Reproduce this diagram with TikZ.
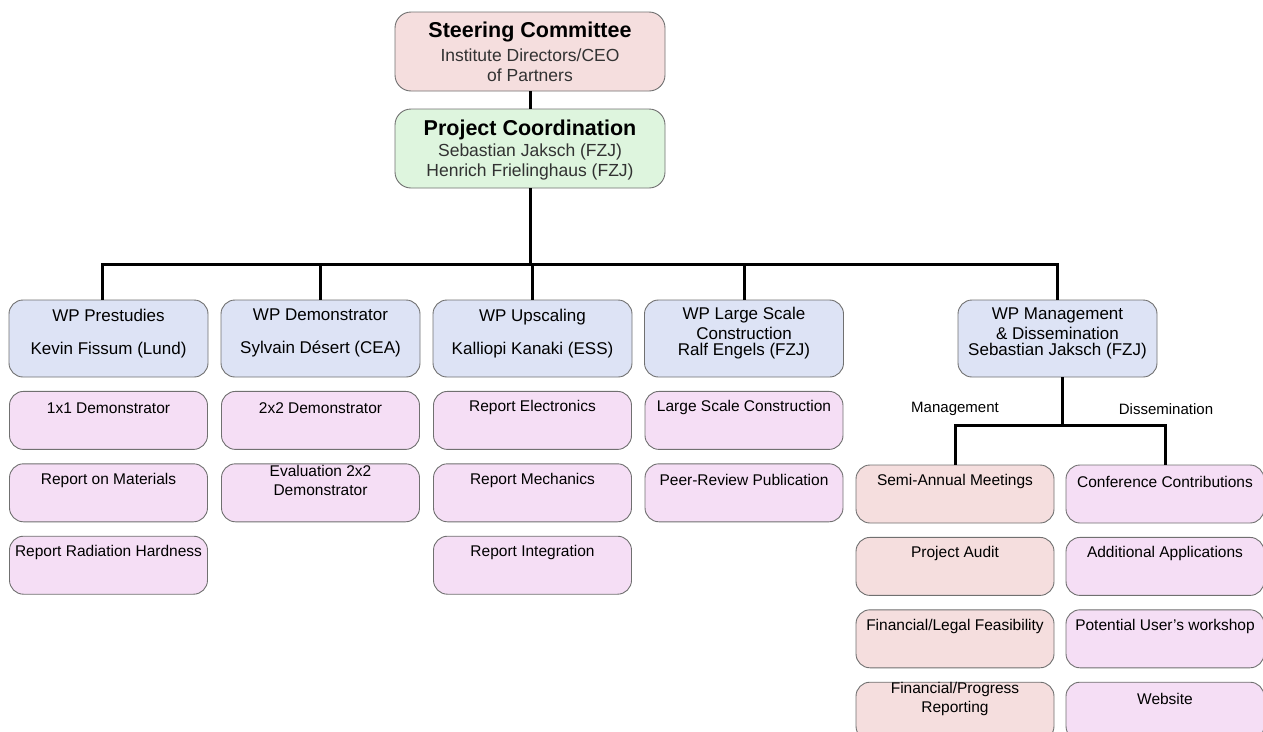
\documentclass[tikz,border=0pt]{standalone}
\usepackage{fontspec}
\setmainfont{Liberation Sans}
\usetikzlibrary{positioning}
\definecolor{SteerClr}{RGB}{245,222,222}
\definecolor{CoordClr}{RGB}{222,245,222}
\definecolor{WpClr}{RGB}{221,227,245}
\definecolor{TaskClr}{RGB}{245,222,245}
\definecolor{MgmtClr}{RGB}{245,222,222}
\definecolor{EdgeClr}{RGB}{112,112,112}
\definecolor{NameClr}{RGB}{50,50,50}

\begin{document}
\begin{tikzpicture}[x=1pt,y=-1pt,node distance=13.5pt,
  box/.style={draw=EdgeClr,line width=0.9pt,rounded corners=14pt,inner sep=0pt,align=center},
  head/.style={box,rounded corners=16pt,minimum width=270pt,minimum height=79pt,text depth=0pt,text=NameClr,font=\fontsize{17.5}{20}\selectfont},
  wp/.style={box,fill=WpClr,minimum width=199pt,minimum height=77pt,text depth=14pt,font=\fontsize{17}{20}\selectfont},
  task/.style={box,fill=TaskClr,minimum width=198pt,minimum height=58pt},
  tasktxt/.style={anchor=center,yshift=-17pt,align=center,font=\fontsize{15.5}{19}\selectfont},
  conn/.style={line width=3pt}]
\useasboundingbox (0,0) rectangle (1263,731);

\node[head,fill=SteerClr] (steer) at (530,51.5) {{\color{black}\fontsize{21.5}{24}\selectfont\bfseries Steering Committee}\\[4pt]Institute Directors/CEO\\of Partners};
\node[head,fill=CoordClr] (coord) at (530,148.5) {{\color{black}\fontsize{21.5}{24}\selectfont\bfseries Project Coordination}\\[1pt]Sebastian Jaksch (FZJ)\\Henrich Frielinghaus (FZJ)};

\node[wp] (wpa) at (108.5,338.5) {WP Prestudies\\[13pt]Kevin Fissum (Lund)};
\node[wp] (wpb) at (320.5,338.5) {WP Demonstrator\\[13pt]Sylvain Désert (CEA)};
\node[wp] (wpc) at (532.5,338.5) {WP Upscaling\\[13pt]Kalliopi Kanaki (ESS)};
\node[wp] (wpd) at (744,338.5) {WP Large Scale\\Construction\\[-4pt]Ralf Engels (FZJ)};
\node[wp] (wpe) at (1057.5,338.5) {WP Management\\\& Dissemination\\[-4pt]Sebastian Jaksch (FZJ)};

\draw[conn] (steer) -- (coord);
\draw[conn] (coord.south) -- ++(0,76) coordinate (bus);
\draw[conn] (bus) -| ([xshift=-6pt]wpa.north);
\draw[conn] (bus) -| (wpb.north);
\draw[conn] (bus) -| (wpc.north);
\draw[conn] (bus) -| (wpd.north);
\draw[conn] (bus) -| (wpe.north);

% work package tasks
\node[task,below=of wpa,label={[tasktxt]north:{1x1 Demonstrator}}] (pa1) {};
\node[task,below=of pa1,label={[tasktxt]north:{Report on Materials}}] (pa2) {};
\node[task,below=of pa2,label={[tasktxt]north:{Report Radiation Hardness}}] (pa3) {};

\node[task,below=of wpb,label={[tasktxt]north:{2x2 Demonstrator}}] (pb1) {};
\node[task,below=of pb1,label={[tasktxt]north:{Evaluation 2x2\\Demonstrator}}] (pb2) {};

\node[task,below=of wpc,label={[tasktxt]north:{Report Electronics}}] (pc1) {};
\node[task,below=of pc1,label={[tasktxt]north:{Report Mechanics}}] (pc2) {};
\node[task,below=of pc2,label={[tasktxt]north:{Report Integration}}] (pc3) {};

\node[task,below=of wpd,label={[tasktxt]north:{Large Scale Construction}}] (pd1) {};
\node[task,below=of pd1,label={[tasktxt]north:{Peer-Review Publication}}] (pd2) {};

% management and dissemination
\node[task,fill=MgmtClr,label={[tasktxt]north:{Semi-Annual Meetings}}] (m1) at (955,494) {};
\node[task,fill=MgmtClr,below=of m1,label={[tasktxt]north:{Project Audit}}] (m2) {};
\node[task,fill=MgmtClr,below=of m2,label={[tasktxt]north:{Financial/Legal Feasibility}}] (m3) {};
\node[task,fill=MgmtClr,below=of m3,label={[tasktxt]north:{Financial/Progress\\Reporting}}] (m4) {};

\node[task,label={[tasktxt]north:{Conference Contributions}}] (d1) at (1165,494) {};
\node[task,below=of d1,label={[tasktxt]north:{Additional Applications}}] (d2) {};
\node[task,below=of d2,label={[tasktxt]north:{Potential User's workshop}}] (d3) {};
\node[task,below=of d3,label={[tasktxt]north:{Website}}] (d4) {};

\draw[conn] ([xshift=5pt]wpe.south) -- ++(0,48) coordinate (split);
\draw[conn] (split) -| (m1.north);
\draw[conn] (split) -| (d1.north);
\node[font=\fontsize{15}{18}\selectfont] (mlbl) at (955,409) {Management};
\node[font=\fontsize{15}{18}\selectfont] (dlbl) at (1166,409) {Dissemination};

\end{tikzpicture}
\end{document}
